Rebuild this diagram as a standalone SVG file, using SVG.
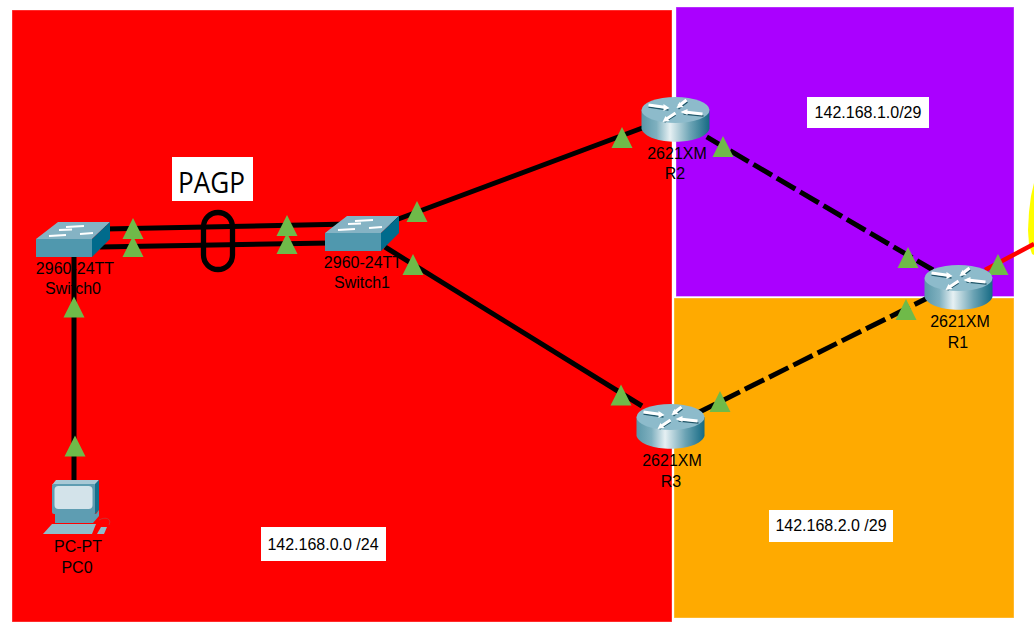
<svg xmlns="http://www.w3.org/2000/svg" width="1034" height="641" viewBox="0 0 1034 641">
<style>
text{font-family:"Liberation Sans",Arial,sans-serif;font-size:16px;text-anchor:middle;fill:#000}
.lnk{fill:none;stroke:#000;stroke-width:5}
.dash{stroke-dasharray:21.5 5.6}
.box{fill:#fff}
.tri{fill:#6fba49}
.area{stroke:#fff;stroke-opacity:.35;stroke-width:1}
</style>
<defs>
<linearGradient id="rg" x1="0" x2="1" y1="0" y2="0">
<stop offset="0" stop-color="#5a97a9"/><stop offset=".22" stop-color="#7fb0bf"/><stop offset=".42" stop-color="#e6f0f3"/><stop offset=".72" stop-color="#6ba3b4"/><stop offset="1" stop-color="#156a84"/>
</linearGradient>
<polygon id="t" class="tri" points="0,-11 10.500,10 -10.500,10"/>
<g id="router">
<path d="M-34,-9 V10 C-28,27 28,27 34,10 V-9 Z" fill="url(#rg)"/>
<ellipse cx="0" cy="-9" rx="34" ry="13" fill="#8dbbcb"/>
<g fill="none" stroke="#1f5568" stroke-width="1.500">
<path d="M-27,-12 L-7,-9 M12,-17 L3,-10 M8,-5 L28,-3 M0,-4 L-11,3"/>
</g>
<g fill="none" stroke="#fff" stroke-width="3">
<path d="M-27,-14 L-9,-11.500 M11,-19 L3,-13 M9,-7 L27,-5 M0,-6 L-9,0"/>
</g>
<g fill="#fff">
<polygon points="-6,-11 -12,-15 -12,-8"/>
<polygon points="1,-11 4,-17 8,-12"/>
<polygon points="5,-7 12,-10 12,-4"/>
<polygon points="-13,3 -10,-3 -6,2"/>
</g>
</g>
<g id="switch">
<polygon points="-37,-6 -15,-23 37,-23 19,-6" fill="#85b3c4"/>
<rect x="-37" y="-6" width="56" height="18" fill="#5098ae"/>
<polygon points="19,-6 37,-23 37,-6 19,12" fill="#006b8c"/>
<path d="M-24,-9 L-7,-10 M-7,-18 L11,-19 M-14,-15 L-1,-15.500 M7,-11 L20,-12" stroke="#fff" stroke-width="1.800" fill="none"/>
</g>
</defs>
<rect width="1034" height="641" fill="#fff"/>
<g id="areas">
<rect class="area" x="12" y="10" width="660" height="612" fill="#ff0000"/>
<rect class="area" x="676" y="7" width="338" height="289.500" fill="#aa00ff"/>
<rect class="area" x="674" y="298" width="340" height="320" fill="#ffaa00"/>
<polygon points="1034,183 1031,196 1029,212 1028,230 1029,245 1032,254 1034,255" fill="#ffff00"/>
</g>
<g id="connectors">
<path class="lnk" d="M74,256 V482"/>
<path class="lnk" d="M105,229 L350,224"/>
<path class="lnk" d="M100,247 L330,243"/>
<path class="lnk" d="M385,224 L645,127"/>
<path class="lnk" d="M385,247 L642,406"/>
<path class="lnk dash" d="M706.7,136.900 L933,270"/>
<path class="lnk dash" d="M696.400,413.600 L928,297.800"/>
<path d="M985,270 L1034,244" fill="none" stroke="#ff0000" stroke-width="4.500"/>
<rect x="203.500" y="212.500" width="29" height="57" rx="14.500" fill="none" stroke="#000" stroke-width="5.300"/>
</g>
<g id="markers">
<use href="#t" x="133" y="229"/>
<use href="#t" x="133" y="247"/>
<use href="#t" x="287" y="226"/>
<use href="#t" x="287" y="244"/>
<use href="#t" x="417" y="212"/>
<use href="#t" x="413" y="265"/>
<use href="#t" x="74" y="307.500"/>
<use href="#t" x="75" y="446.500"/>
<use href="#t" x="622" y="138"/>
<use href="#t" x="723" y="147"/>
<use href="#t" x="908" y="258"/>
<use href="#t" x="998" y="265"/>
<use href="#t" x="906" y="310"/>
<use href="#t" x="621" y="395.500"/>
<use href="#t" x="720" y="402"/>
</g>
<g id="Switch0"><use href="#switch" x="73" y="245"/><text x="75" y="274">2960-24TT</text><text x="73" y="294">Switch0</text></g>
<g id="Switch1"><use href="#switch" x="362" y="239"/><text x="363" y="268">2960-24TT</text><text x="362" y="288">Switch1</text></g>
<g id="R2"><use href="#router" x="675.500" y="119"/><text x="677" y="159">2621XM</text><text x="675" y="179">R2</text></g>
<g id="R1"><use href="#router" x="958.500" y="287"/><text x="960" y="327">2621XM</text><text x="958" y="348">R1</text></g>
<g id="R3"><use href="#router" x="670.500" y="426"/><text x="672" y="466">2621XM</text><text x="671" y="487">R3</text></g>
<g id="PC0">
<polygon points="52,485 56,480 99,480 95,485" fill="#a9c9d6"/>
<rect x="52" y="484" width="44" height="30" rx="2" fill="#5e9db2"/>
<polygon points="95,484 99,480 99,510 95,514" fill="#17708c"/>
<rect x="54.500" y="486" width="38" height="23" rx="4" fill="#d3e3ea"/>
<polygon points="55,514 96,514 99,510 99,516 93,523 55,523" fill="#5e9db2"/>
<polygon points="43,534 52,524 96,524 92,534" fill="#8fbccb"/>
<polygon points="97,534 101,527 107,527 104,534" fill="#8fbccb"/>
<path d="M99,520 C106,516 112,519 109,525" fill="none" stroke="#c43a3a" stroke-width=".8"/>
<text x="78" y="552">PC-PT</text><text x="77" y="573">PC0</text>
</g>
<g id="lbl-pagp"><rect class="box" x="172" y="157" width="81" height="44"/><text x="211.500" y="193" textLength="67" lengthAdjust="spacingAndGlyphs" style="font-family:'Open Sans',sans-serif;font-size:28.500px">PAGP</text></g>
<g id="lbl-lan"><rect class="box" x="261" y="527" width="125" height="34"/><text x="323" y="550">142.168.0.0 /24</text></g>
<g id="lbl-r1r2"><rect class="box" x="807" y="97" width="122" height="31"/><text x="868" y="118">142.168.1.0/29</text></g>
<g id="lbl-r1r3"><rect class="box" x="769" y="510" width="124" height="32"/><text x="831" y="531">142.168.2.0 /29</text></g>
</svg>
